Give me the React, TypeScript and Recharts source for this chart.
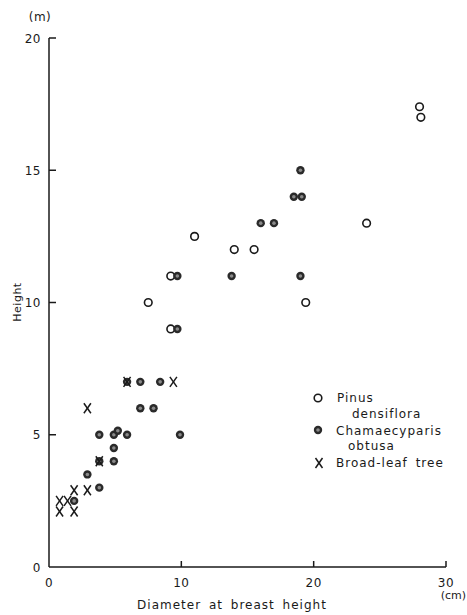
import React from 'react';
import { ScatterChart, Scatter, XAxis, YAxis, Label } from 'recharts';

const pinusX = [7.5, 9.2, 9.2, 11, 14, 15.5, 19.4, 24, 28, 28.1];
const pinusY = [10, 11, 9, 12.5, 12, 12, 10, 13, 17.4, 17];

const chamaeX = [9.7, 9.7, 13.8, 16, 17, 18.5, 19.1, 19, 19, 5.9, 6.9, 8.4, 6.9, 7.9, 3.8, 4.9, 5.2, 5.9, 9.9, 4.9, 3.8, 4.9, 2.9, 3.8, 1.9];
const chamaeY = [11, 9, 11, 13, 13, 14, 14, 15, 11, 7, 7, 7, 6, 6, 5, 5, 5.15, 5, 5, 4.5, 4, 4, 3.5, 3, 2.5];

const broadX = [0.8, 1.9, 0.8, 1.4, 1.9, 2.9, 2.9, 3.8, 5.9, 9.4];
const broadY = [2.1, 2.1, 2.5, 2.5, 2.9, 2.9, 6, 4, 7, 7];

const xTicks = [0, 10, 20, 30];
const yTicks = [0, 5, 10, 15, 20];

const toPoints = (xs: number[], ys: number[]) => xs.map((x, i) => ({ x, y: ys[i] }));
const pinus = toPoints(pinusX, pinusY);
const chamae = toPoints(chamaeX, chamaeY);
const broad = toPoints(broadX, broadY);

const INK = '#1a1a1a';
const FONT = '"DejaVu Sans", sans-serif';

const OpenDot = (p: any) => (
  <circle cx={p.cx} cy={p.cy} r={3.8} fill="#fff" stroke={INK} strokeWidth={1.6} />
);
const FilledDot = (p: any) => (
  <g>
    <circle cx={p.cx} cy={p.cy} r={4.2} fill="#2a2a2a" />
    <circle cx={p.cx} cy={p.cy} r={1.8} fill="#8a8a8a" />
  </g>
);
const Cross = (p: any) => (
  <g stroke={INK} strokeWidth={1.5}>
    <line x1={p.cx - 3.5} y1={p.cy - 5} x2={p.cx + 3.5} y2={p.cy + 5} />
    <line x1={p.cx + 3.5} y1={p.cy - 5} x2={p.cx - 3.5} y2={p.cy + 5} />
  </g>
);

const XTick = (p: any) => {
  const v = p.payload.value;
  return (
    <g>
      {v !== 0 && <line x1={p.x} y1={p.y} x2={p.x} y2={p.y - 6} stroke={INK} strokeWidth={1.5} />}
      <text x={p.x} y={p.y + 20} textAnchor="middle" fontFamily={FONT} fontSize={12} fill={INK} letterSpacing={0.5}>
        {v}
      </text>
    </g>
  );
};

const YTick = (p: any) => {
  const v = p.payload.value;
  return (
    <g>
      {v !== 0 && <line x1={p.x} y1={p.y} x2={p.x + 7} y2={p.y} stroke={INK} strokeWidth={1.5} />}
      <text x={p.x - 8} y={p.y + 4.5} textAnchor="end" fontFamily={FONT} fontSize={12} fill={INK} letterSpacing={0.5}>
        {v}
      </text>
    </g>
  );
};

const txt = { fontFamily: FONT, fontSize: 12, fill: INK, letterSpacing: 1 } as any;

const Extras = () => (
  <g>
    <text x={232} y={609} textAnchor="middle" {...txt} wordSpacing={3}>Diameter at breast height</text>
    <text x={466} y={599} textAnchor="end" {...txt} fontSize={11} letterSpacing={0}>(cm)</text>
    <text x={40} y={21} textAnchor="middle" {...txt} letterSpacing={0.5}>(m)</text>
    <text x={0} y={0} transform="translate(21,302) rotate(-90)" textAnchor="middle" {...txt} fontSize={11} letterSpacing={0.5}>Height</text>
    <circle cx={318} cy={398} r={3.8} fill="#fff" stroke={INK} strokeWidth={1.6} />
    <text x={337} y={402} {...txt}>Pinus</text>
    <text x={352} y={418} {...txt}>densiflora</text>
    <circle cx={318} cy={430} r={4.2} fill="#2a2a2a" />
    <circle cx={318} cy={430} r={1.8} fill="#8a8a8a" />
    <text x={336} y={435} {...txt}>Chamaecyparis</text>
    <text x={348} y={450} {...txt}>obtusa</text>
    <g stroke={INK} strokeWidth={1.5}>
      <line x1={315.5} y1={458} x2={322.5} y2={468} />
      <line x1={322.5} y1={458} x2={315.5} y2={468} />
    </g>
    <text x={336} y={467} {...txt} wordSpacing={3}>Broad-leaf tree</text>
  </g>
);

export default function App() {
  return (
    <div style={{ position: 'absolute', left: 0, top: 0, width: 467, height: 615, background: '#fff' }}>
      <ScatterChart width={467} height={615} margin={{ top: 38, right: 21, bottom: 0, left: 0 }}>
        <XAxis
          type="number"
          dataKey="x"
          domain={[0, 30]}
          ticks={xTicks}
          height={48}
          tickSize={0}
          tickMargin={0}
          tickLine={false}
          tick={<XTick />}
          axisLine={{ stroke: INK, strokeWidth: 1.5 }}
          allowDataOverflow
        >
          <Label content={() => <Extras />} />
        </XAxis>
        <YAxis
          type="number"
          dataKey="y"
          domain={[0, 20]}
          ticks={yTicks}
          width={49}
          tickSize={0}
          tickMargin={0}
          tickLine={false}
          tick={<YTick />}
          axisLine={{ stroke: INK, strokeWidth: 1.5 }}
          allowDataOverflow
        />
        <Scatter data={pinus} shape={OpenDot} isAnimationActive={false} />
        <Scatter data={chamae} shape={FilledDot} isAnimationActive={false} />
        <Scatter data={broad} shape={Cross} isAnimationActive={false} />
      </ScatterChart>
    </div>
  );
}
